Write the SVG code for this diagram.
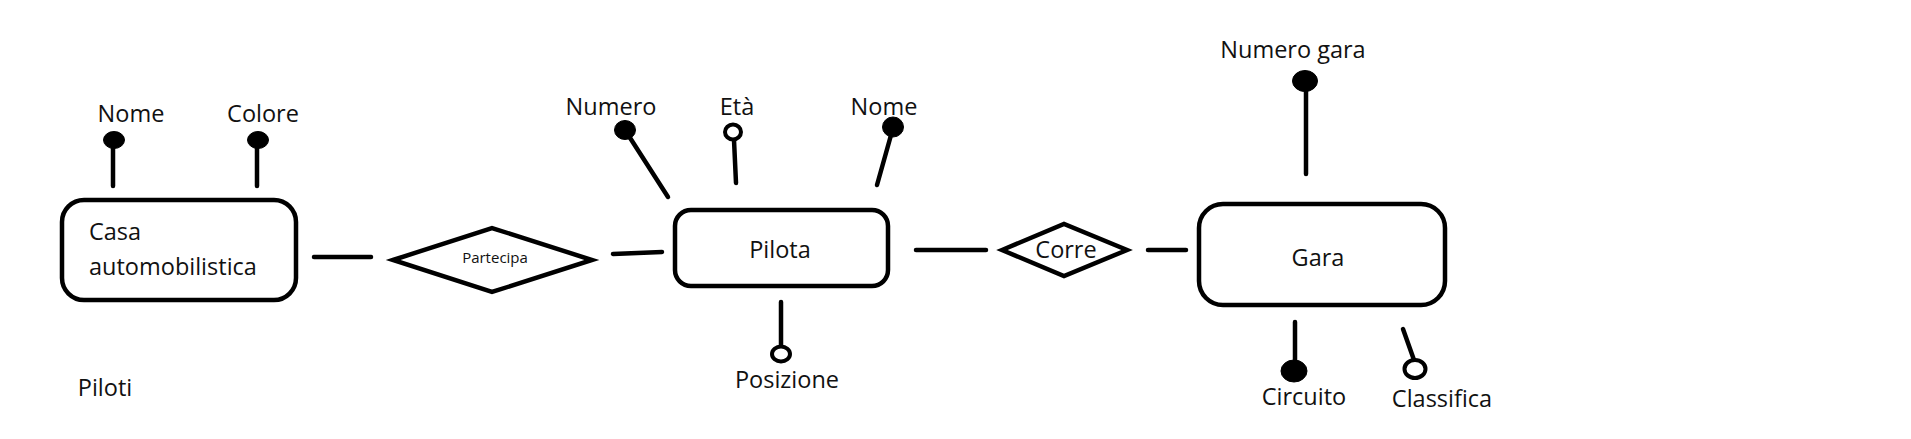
<svg xmlns="http://www.w3.org/2000/svg" width="1911" height="439" viewBox="0 0 1911 439">
<style>
  .box { fill: #ffffff; stroke: #000000; stroke-width: 4.5; }
  .rel { fill: #ffffff; stroke: #000000; stroke-width: 4.5; stroke-linejoin: miter; }
  .ln { stroke: #000000; stroke-width: 4.5; fill: none; stroke-linecap: round; }
  .full { fill: #000000; stroke: #000000; stroke-width: 1; }
  .open { fill: #ffffff; stroke: #000000; stroke-width: 4; }
  text { font-family: "Open Sans", "Noto Sans", "DejaVu Sans", sans-serif; font-size: 23.5px; fill: #111111; }
  .c { text-anchor: middle; }
  .small { font-size: 15px; }
</style>
<rect width="1911" height="439" fill="#ffffff"/>
<g id="connectors">
  <line class="ln" x1="314" y1="257" x2="371" y2="257"/>
  <line class="ln" x1="613" y1="254" x2="662" y2="252"/>
  <line class="ln" x1="916" y1="250" x2="986" y2="250"/>
  <line class="ln" x1="1148" y1="250" x2="1186" y2="250"/>
</g>
<g id="casa">
  <rect class="box" x="62" y="200" width="234" height="100" rx="22"/>
  <text x="89" y="240">Casa</text>
  <text x="89" y="275">automobilistica</text>
</g>
<g id="casa-nome">
  <line class="ln" x1="113" y1="140" x2="113" y2="186"/>
  <ellipse class="full" cx="114" cy="140" rx="10.5" ry="8.5"/>
  <text class="c" x="131" y="122">Nome</text>
</g>
<g id="casa-colore">
  <line class="ln" x1="257" y1="140" x2="257" y2="186"/>
  <ellipse class="full" cx="258" cy="140" rx="10.5" ry="8.5"/>
  <text class="c" x="263" y="122">Colore</text>
</g>
<g id="partecipa">
  <polygon class="rel" points="393,260 492,228 592,260 492,292"/>
  <text class="c small" x="495" y="263">Partecipa</text>
</g>
<g id="pilota">
  <rect class="box" x="675" y="210" width="213" height="76" rx="16"/>
  <text class="c" x="780" y="258">Pilota</text>
</g>
<g id="pilota-numero">
  <line class="ln" x1="625" y1="130" x2="668" y2="197"/>
  <ellipse class="full" cx="625" cy="130" rx="10.5" ry="9.5"/>
  <text class="c" x="611" y="115">Numero</text>
</g>
<g id="pilota-eta">
  <line class="ln" x1="734" y1="140" x2="736" y2="183"/>
  <ellipse class="open" cx="733" cy="132" rx="8" ry="7.5"/>
  <text class="c" x="737" y="115">Età</text>
</g>
<g id="pilota-nome">
  <line class="ln" x1="893" y1="128" x2="877" y2="185"/>
  <ellipse class="full" cx="893" cy="127" rx="10.5" ry="10"/>
  <text class="c" x="884" y="115">Nome</text>
</g>
<g id="pilota-posizione">
  <line class="ln" x1="781" y1="302" x2="781" y2="346"/>
  <ellipse class="open" cx="781" cy="354" rx="9" ry="7.5"/>
  <text class="c" x="787" y="388">Posizione</text>
</g>
<g id="corre">
  <polygon class="rel" points="1002,250 1064,224 1127,250 1064,276"/>
  <text class="c" x="1066" y="258">Corre</text>
</g>
<g id="gara">
  <rect class="box" x="1199" y="204" width="246" height="101" rx="24"/>
  <text class="c" x="1318" y="266">Gara</text>
</g>
<g id="gara-numero">
  <line class="ln" x1="1306" y1="82" x2="1306" y2="174"/>
  <ellipse class="full" cx="1305" cy="81" rx="12.5" ry="10.5"/>
  <text class="c" x="1293" y="58">Numero gara</text>
</g>
<g id="gara-circuito">
  <line class="ln" x1="1295" y1="322" x2="1295" y2="364"/>
  <ellipse class="full" cx="1294" cy="371" rx="13" ry="11"/>
  <text class="c" x="1304" y="405">Circuito</text>
</g>
<g id="gara-classifica">
  <line class="ln" x1="1403" y1="329" x2="1414" y2="360"/>
  <ellipse class="open" cx="1415" cy="369" rx="10.5" ry="9"/>
  <text class="c" x="1442" y="407">Classifica</text>
</g>
<g id="piloti">
  <text class="c" x="105" y="396">Piloti</text>
</g>
</svg>
